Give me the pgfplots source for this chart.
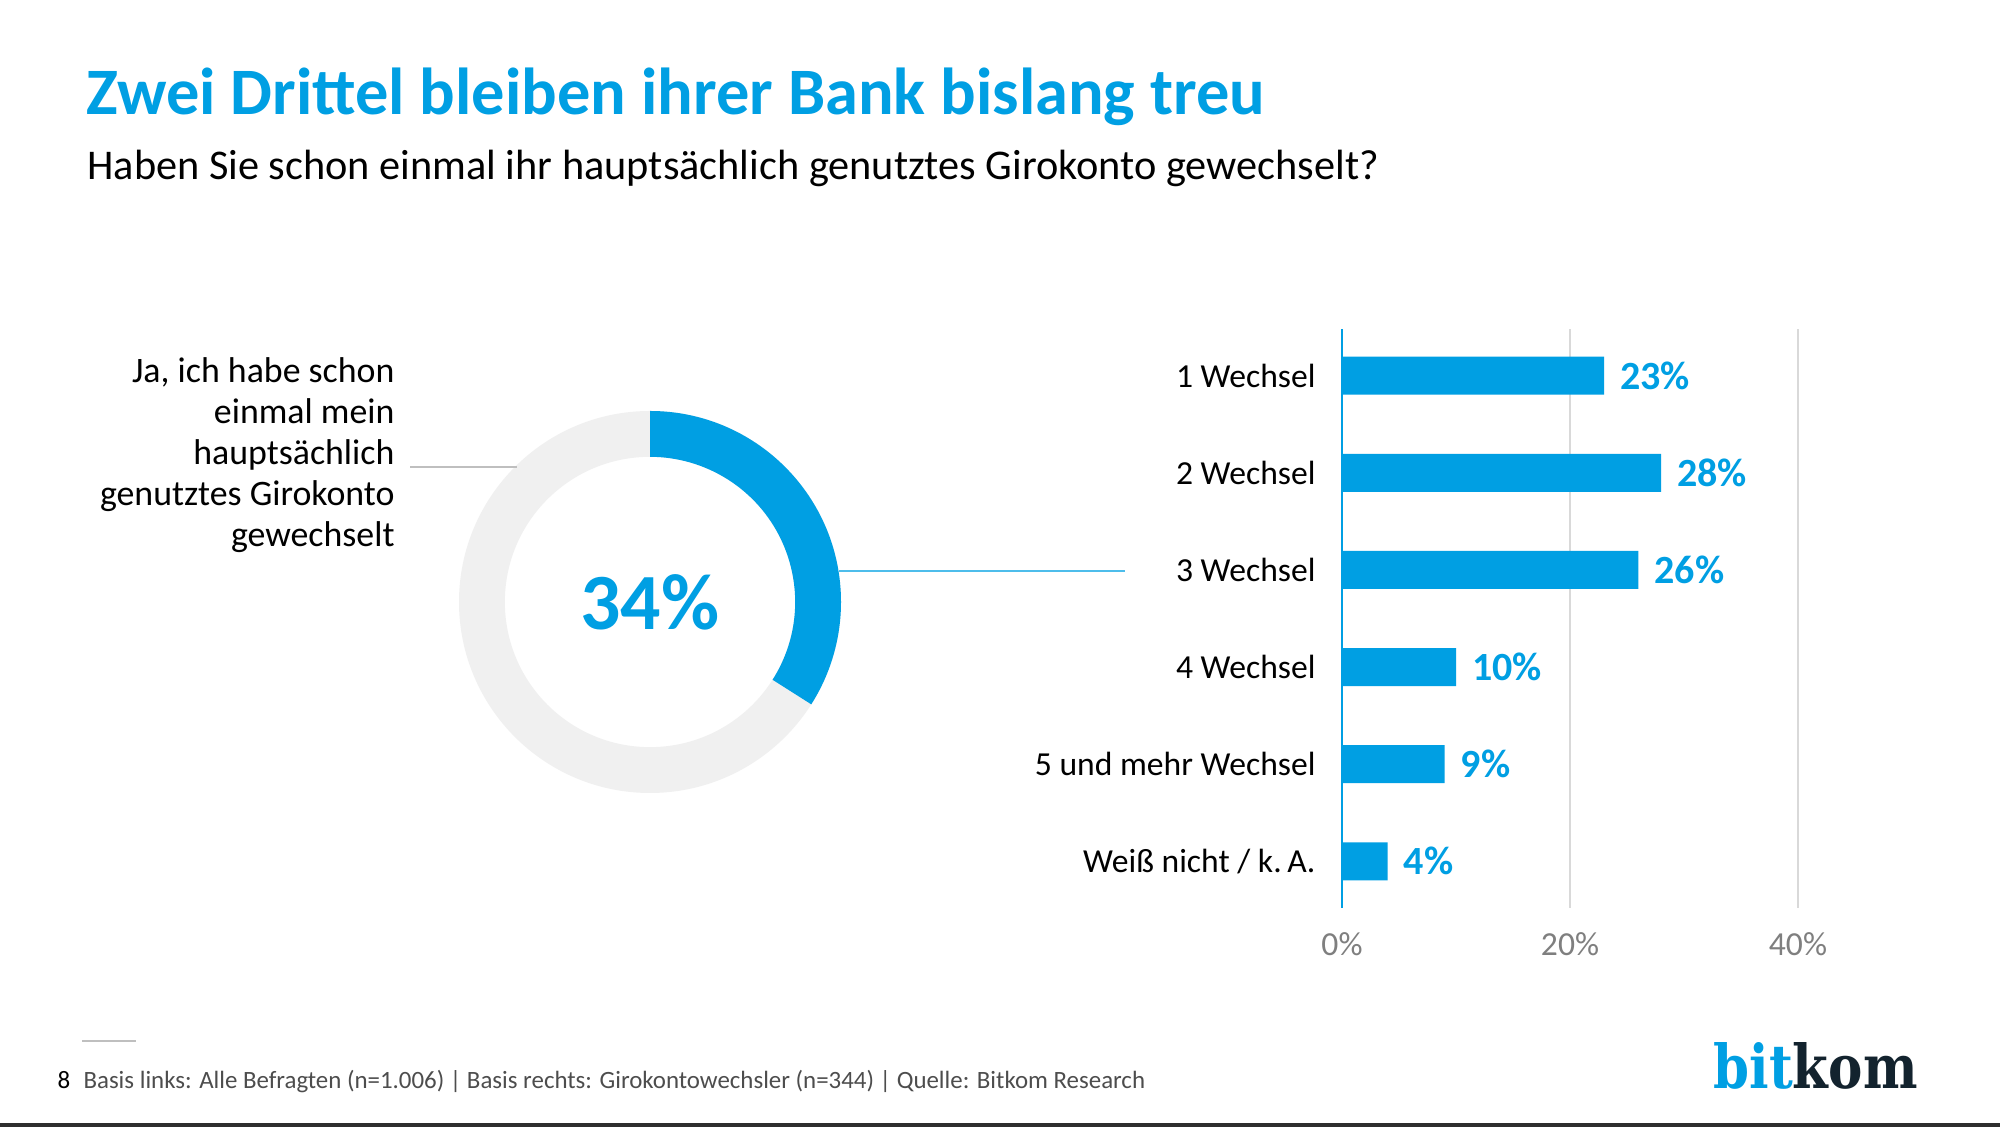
\documentclass[border=0pt]{standalone}
\usepackage{pgfplots}
\pgfplotsset{compat=1.18}
\usepackage{pgfplotstable}
\usepackage{fontspec}
\setmainfont{Carlito}
\newfontfamily\logofont{DejaVu Serif}

\definecolor{bkblue}{HTML}{009FE3}
\definecolor{ringgrey}{HTML}{F0F0F0}
\definecolor{gridgrey}{HTML}{D9D9D9}
\definecolor{tickgrey}{HTML}{7F7F7F}
\definecolor{footgrey}{HTML}{4D4D4D}
\definecolor{logodark}{HTML}{13232E}
\definecolor{leadgrey}{HTML}{BFBFBF}
\definecolor{leadblue}{HTML}{4DBDEB}
\definecolor{basebar}{HTML}{2E2E2E}

% share of respondents who have switched (donut)
\def\share{34}

% switches among those who switched
\pgfplotstableread{
pos val
5 23
4 28
3 26
2 10
1 9
0 4
}\switchdata

\begin{document}
\begin{tikzpicture}[x=0.36pt,y=0.36pt]
% canvas
\fill[white] (0,0) rectangle (2000,1127);
\fill[basebar] (0,0) rectangle (2000,4);

% headings
\node[anchor=base west, inner sep=0, text=bkblue,
      font=\bfseries\fontsize{23.9pt}{28pt}\selectfont] at (86,1012)
      {Zwei Drittel bleiben ihrer Bank bislang treu};
\node[anchor=base west, inner sep=0, text=black,
      font=\fontsize{15.23pt}{18pt}\selectfont] at (87,947)
      {Haben Sie schon einmal ihr hauptsächlich genutztes Girokonto gewechselt?};

% donut
\pgfmathsetmacro{\endang}{90-3.6*\share}
\begin{axis}[at={(234pt,189pt)}, anchor=center, scale only axis,
  width=137.52pt, height=137.52pt,
  xmin=-1, xmax=1, ymin=-1, ymax=1, hide axis, clip=false]
  \fill[ringgrey, even odd rule] (axis cs:0,0) circle[radius=1]
        (axis cs:0,0) circle[radius=0.76];
  \fill[bkblue] (axis cs:0,1) arc[start angle=90, end angle=\endang, radius=1]
        -- (axis cs:{0.76*cos(\endang)},{0.76*sin(\endang)})
        arc[start angle=\endang, end angle=90, radius=0.76] -- cycle;
  \node[text=bkblue, font=\bfseries\fontsize{28.7pt}{32pt}\selectfont]
        at (axis cs:0,0) {\share\%};
\end{axis}

% leader lines
\draw[leadgrey, line width=0.8pt] (410,660.3) -- (517,660.3);
\draw[leadblue, line width=0.8pt] (839,556.3) -- (1125,556.3);

% left label
\foreach \t [count=\i from 0] in {Ja{,} ich habe schon, einmal mein, hauptsächlich,
    genutztes Girokonto, gewechselt}
  \node[anchor=base east, inner sep=0, font=\fontsize{12.9pt}{15pt}\selectfont]
    at (395,{744.5-41*\i}) {\t};

% bar chart
\begin{axis}[at={(483.12pt,78.84pt)}, anchor=south west, scale only axis,
  width=164.16pt, height=208.44pt,
  xbar, bar width=13.68pt,
  xmin=0, xmax=40, ymin=-0.48, ymax=5.48,
  ytick={0,...,5},
  yticklabels={Weiß nicht / k.\,A., 5 und mehr Wechsel, 4 Wechsel, 3 Wechsel, 2 Wechsel, 1 Wechsel},
  xtick={0,20,40}, xticklabels={0\%,20\%,40\%},
  xmajorgrids, major grid style={gridgrey, line width=0.7pt},
  axis lines*=left,
  x axis line style={draw=none},
  y axis line style={draw=bkblue, line width=0.7pt, -},
  tick style={draw=none}, major tick length=0pt,
  /pgf/number format/assume math mode=true,
  yticklabel style={font=\fontsize{12.1pt}{14pt}\selectfont, xshift=-6pt},
  xticklabel style={font=\fontsize{12.1pt}{14pt}\selectfont, text=tickgrey, yshift=-5.2pt},
  point meta=x,
  nodes near coords={\pgfmathprintnumber{\pgfplotspointmeta}\%},
  nodes near coords style={font=\bfseries\fontsize{14.4pt}{16pt}\selectfont,
      text=bkblue, anchor=west, xshift=2.3pt},
  clip=false]
  \addplot[fill=bkblue, draw=none] table[x=val, y=pos] {\switchdata};
\end{axis}

% footer
\draw[leadgrey, line width=0.6pt] (82,86) -- (136,86);
\node[anchor=base west, inner sep=0, font=\fontsize{9pt}{11pt}\selectfont] at (57,38) {8};
\node[anchor=base west, inner sep=0, text=footgrey, font=\fontsize{8.96pt}{11pt}\selectfont] at (83,38)
  {Basis links: Alle Befragten (n=1.006) | Basis rechts: Girokontowechsler (n=344) | Quelle: Bitkom Research};
\node[anchor=base west, inner sep=0] at (1713,38)
  {\resizebox{73.44pt}{16.56pt}{\logofont\bfseries\textcolor{bkblue}{bit}\textcolor{logodark}{kom}}};
\end{tikzpicture}
\end{document}
